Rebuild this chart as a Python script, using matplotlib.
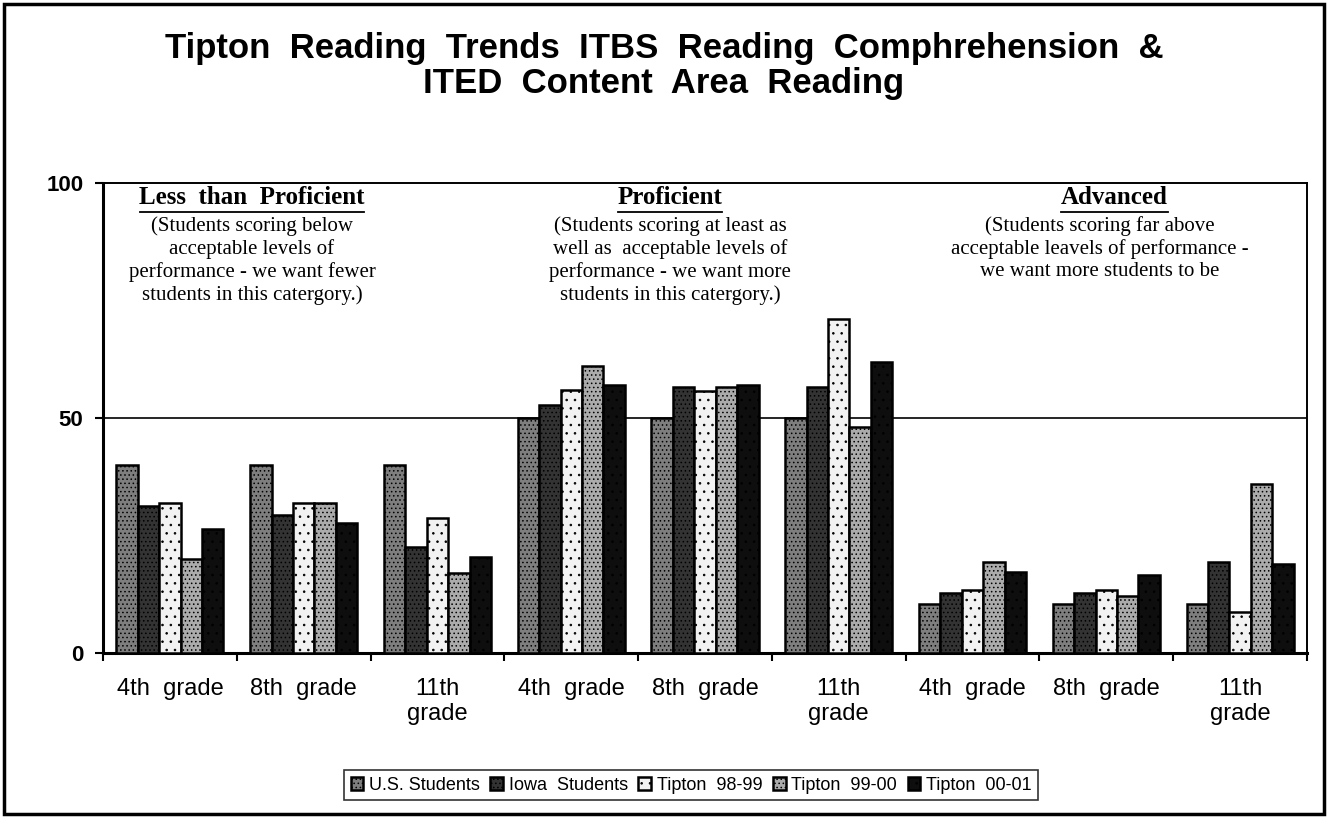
import matplotlib
matplotlib.use("Agg")
import matplotlib.pyplot as plt
from matplotlib.patches import Rectangle
import numpy as np

groups = ["4th  grade", "8th  grade", "11th\ngrade"] * 3
series = ["U.S. Students", "Iowa  Students", "Tipton  98-99", "Tipton  99-00", "Tipton  00-01"]
us_students = [40, 40, 40, 50, 50, 50, 10.4, 10.4, 10.4]
iowa_students = [31.3, 29.3, 22.5, 52.8, 56.5, 56.5, 12.7, 12.7, 19.4]
tipton_98_99 = [31.9, 32, 28.7, 56, 55.8, 71, 13.3, 13.3, 8.8]
tipton_99_00 = [20.1, 32, 17, 61, 56.5, 48, 19.4, 12.1, 36]
tipton_00_01 = [26.4, 27.6, 20.4, 57, 57, 62, 17.2, 16.6, 18.9]
values = [us_students, iowa_students, tipton_98_99, tipton_99_00, tipton_00_01]

faces = ["#7e7e7e", "#333333", "#f2f2f2", "#ababab", "#0e0e0e"]
hatches = ["....", "....", "..", "....", ".."]

plt.rcParams["hatch.linewidth"] = 0.6
W, H = 1328, 818
fig = plt.figure(figsize=(W / 100, H / 100), dpi=100)

# figure border
fig.patches.append(Rectangle((4 / W, 4 / H), 1 - 8 / W, 1 - 8 / H, transform=fig.transFigure,
                             fill=False, edgecolor="black", linewidth=2.5))

ax = fig.add_axes([103 / W, 1 - 653 / H, (1307 - 103) / W, (653 - 183) / H])
x = np.arange(len(groups))
bw = 0.16
for i, (vals, fc, hc, name) in enumerate(zip(values, faces, hatches, series)):
    ax.bar(x + (i - 2) * bw, vals, bw, color=fc, edgecolor="black", linewidth=1.8,
           hatch=hc, label=name, zorder=3)

ax.set_xlim(-0.5, len(groups) - 0.5)
ax.set_ylim(0, 100)
ax.set_yticks([0, 50, 100])
ax.set_yticklabels(["0", "50", "100"], fontsize=16, family="Liberation Sans", fontweight="bold")
ax.set_xticks(x)
ax.set_xticklabels(groups, fontsize=17, family="Liberation Sans", linespacing=1.15)
ax.tick_params(axis="x", which="major", length=0, pad=18)
ax.set_xticks(np.arange(-0.5, len(groups)), minor=True)
ax.tick_params(axis="x", which="minor", length=6, width=1.5, direction="out")
ax.tick_params(axis="y", length=6, width=1.5, direction="out", pad=8)
ax.axhline(50, color="black", linewidth=1.2, zorder=1)
for s in ["left", "bottom"]:
    ax.spines[s].set_linewidth(2.2)
for s in ["top", "right"]:
    ax.spines[s].set_linewidth(1.4)

# section annotations
serif = "Liberation Serif"
tr = ax.get_xaxis_transform()
def section(xh, xc, head, half, lines):
    ax.text(xh, 0.969, head, transform=tr, ha="center", va="center",
            fontsize=18, family=serif, fontweight="bold")
    ax.plot([xh - half, xh + half], [0.939, 0.939], transform=tr,
            color="black", linewidth=1.3, clip_on=False)
    for k, ln in enumerate(lines):
        ax.text(xc, 0.958 - 0.049 * (k + 1), ln, transform=tr,
                ha="center", va="center", fontsize=15, family=serif)

section(0.614, 0.614, "Less  than  Proficient", 0.84,
        ["(Students scoring below", "acceptable levels of", "performance - we want fewer",
         "students in this catergory.)"])
section(3.74, 3.74, "Proficient", 0.39,
        ["(Students scoring at least as", "well as  acceptable levels of",
         "performance - we want more", "students in this catergory.)"])
section(7.06, 6.95, "Advanced", 0.40,
        ["(Students scoring far above", "acceptable leavels of performance -",
         "we want more students to be"])

fig.text(0.5, 1 - 58 / H, "Tipton  Reading  Trends  ITBS  Reading  Comphrehension  &",
         ha="center", va="baseline", fontsize=25, fontweight="bold", family="Liberation Sans")
fig.text(0.5, 1 - 93 / H, "ITED  Content  Area  Reading",
         ha="center", va="baseline", fontsize=25, fontweight="bold", family="Liberation Sans")

leg = fig.legend(loc="center", bbox_to_anchor=(691 / W, 1 - 785 / H), ncol=5, frameon=True,
                 fancybox=False, edgecolor="black", handlelength=0.7,
                 handleheight=0.7, handletextpad=0.3, columnspacing=0.6, borderpad=0.35,
                 prop={"family": "Liberation Sans", "size": 13})
leg.get_frame().set_linewidth(1.2)

fig.savefig("out.png", dpi=100)
